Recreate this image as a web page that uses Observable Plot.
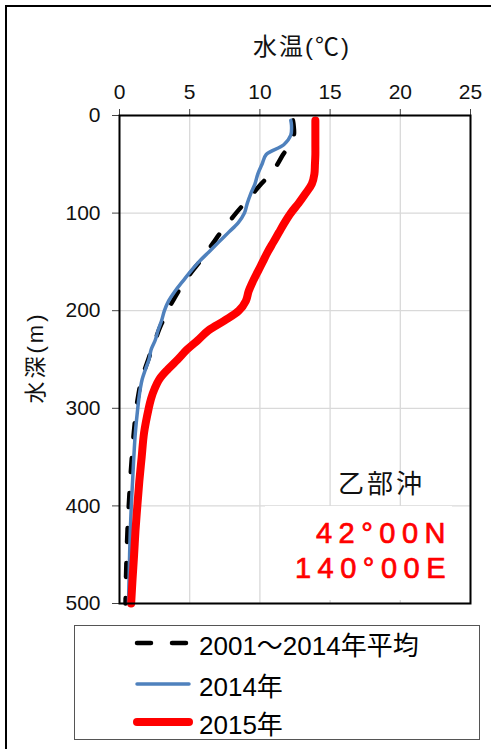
<!DOCTYPE html>
<html>
<head>
<meta charset="utf-8">
<script src="https://cdn.jsdelivr.net/npm/d3@7"></script>
<script src="https://cdn.jsdelivr.net/npm/@observablehq/plot@0.6"></script>
<style>
html, body { margin: 0; padding: 0; width: 491px; height: 749px; overflow: hidden; background: #fff; }
body { font-family: "Liberation Sans", "Noto Sans CJK JP", sans-serif; color: #000; }
#wrap { position: relative; width: 491px; height: 749px; overflow: hidden; }
#outer { position: absolute; left: 5px; top: 5px; width: 486px; height: 744px; border-top: 2px solid #000; border-left: 2px solid #000; box-sizing: border-box; }
#chart { position: absolute; left: 0; top: 0; }
#place { position: absolute; left: 338px; top: 467px; font-size: 26px; letter-spacing: 3px; color: #111; line-height: 30px; font-family: "Noto Sans CJK JP", sans-serif; }
#coords { position: absolute; left: 265px; top: 506px; width: 187px; height: 94px; background: #fff; color: #ff0000;
  font-size: 29px; letter-spacing: 6.5px; line-height: 35px; text-align: right; padding-top: 10px; box-sizing: border-box;
  font-family: "Liberation Sans", sans-serif; -webkit-text-stroke: 0.7px #ff0000; }
#legend { position: absolute; left: 74px; top: 625px; width: 406px; height: 115px; border: 1px solid #555; box-sizing: border-box; }
.row { position: absolute; left: 58px; height: 30px; display: flex; align-items: center; font-size: 26px; white-space: nowrap; }
.row svg { width: 62px; height: 14px; margin-right: 4px; }
</style>
</head>
<body>
<div id="wrap">
  <div id="outer"></div>
  <div id="chart"></div>
  <div id="place"></div>
  <div id="coords"></div>
  <div id="legend"></div>
</div>
<script>
// ---- data ----
const depths   = [5, 10, 20, 30, 40, 50, 60, 70, 80, 90, 100, 110, 120, 130, 140, 150, 160, 170, 180, 190, 200, 210, 220, 230, 240, 250, 260, 270, 280, 290, 300, 325, 350, 375, 400, 425, 450, 475, 500];
const tempMean = [12.35, 12.4, 12.42, 12.15, 11.65, 11.25, 10.75, 10.1, 9.5, 8.9, 8.3, 7.75, 7.2, 6.7, 6.2, 5.7, 5.15, 4.65, 4.2, 3.8, 3.4, 3.1, 2.8, 2.55, 2.28, 2.05, 1.8, 1.55, 1.42, 1.3, 1.2, 1.02, 0.88, 0.76, 0.66, 0.57, 0.51, 0.46, 0.43];
const temp2014 = [12.2, 12.25, 12.2, 11.7, 10.45, 10.15, 9.85, 9.65, 9.35, 9.1, 8.9, 8.45, 7.75, 7.05, 6.35, 5.65, 5.05, 4.5, 3.95, 3.5, 3.2, 3.0, 2.75, 2.55, 2.25, 2.1, 1.85, 1.62, 1.48, 1.38, 1.3, 1.13, 1.02, 0.93, 0.84, 0.77, 0.72, 0.68, 0.64];
const temp2015 = [13.95, 13.95, 13.95, 13.95, 13.95, 13.92, 13.88, 13.7, 13.25, 12.75, 12.2, 11.75, 11.35, 10.95, 10.55, 10.2, 9.85, 9.5, 9.2, 9.0, 8.5, 7.5, 6.35, 5.6, 4.8, 4.15, 3.45, 2.85, 2.5, 2.25, 2.08, 1.75, 1.58, 1.41, 1.27, 1.14, 1.04, 0.93, 0.83];
const seriesNames = ["2001～2014年平均", "2014年", "2015年"];
const xTicks = [0, 5, 10, 15, 20, 25];
const yTicks = [0, 100, 200, 300, 400, 500];
const xTitle = "水温(℃)";
const yTitle = "水深(m)";
const placeName = "乙部沖";
const coordLines = ["42°00N", "140°00E"];

// ---- styles ----
const FONT = '"Liberation Sans", "Noto Sans CJK JP", sans-serif';
const styles = [
  {stroke: "#000000", strokeWidth: 4.5, strokeDasharray: "14,21"},
  {stroke: "#4f81bd", strokeWidth: 3.5},
  {stroke: "#ff0000", strokeWidth: 8}
];

const seriesValues = [tempMean, temp2014, temp2015];
const rows = seriesNames.flatMap((name, s) => depths.map((d, i) => ({series: name, depth: d, temp: seriesValues[s][i]})));

const lineMarks = seriesNames.map((name, s) =>
  Plot.line(rows.filter(r => r.series === name), {
    x: "temp", y: "depth", curve: "catmull-rom",
    strokeLinecap: "round", strokeLinejoin: "round",
    ...styles[s]
  })
);

const chart = Plot.plot({
  width: 491,
  height: 620,
  marginTop: 115,
  marginLeft: 119,
  marginRight: 21,
  marginBottom: 17,
  style: {fontFamily: FONT, fontSize: "21px", color: "#000", background: "transparent", overflow: "visible"},
  x: {domain: [0, 25]},
  y: {domain: [0, 500], reverse: true},
  marks: [
    Plot.gridX(xTicks, {stroke: "#d9d9d9", strokeOpacity: 1, strokeWidth: 1.3}),
    Plot.gridY(yTicks, {stroke: "#d9d9d9", strokeOpacity: 1, strokeWidth: 1.3}),
    Plot.axisX(xTicks, {anchor: "top", tickSize: 7, tickPadding: 10, label: null, fontSize: 21, stroke: "#444", fill: "#111"}),
    Plot.axisY(yTicks, {anchor: "left", tickSize: 7, tickPadding: 12, label: null, fontSize: 21, stroke: "#444", fill: "#111"}),
    ...lineMarks,
    Plot.frame({stroke: "#000", strokeWidth: 2}),
    Plot.text([xTitle], {text: d => d, frameAnchor: "top", lineAnchor: "middle", textAnchor: "middle", dy: -68, dx: 7, fontSize: 24, fill: "#111"}),
    Plot.text([yTitle], {text: d => d, frameAnchor: "left", lineAnchor: "middle", textAnchor: "middle", dx: -84, dy: -2, rotate: -90, fontSize: 22, fill: "#111"})
  ]
});
document.getElementById("chart").appendChild(chart);

// letter spacing for the axis titles
d3.select(chart).selectAll("text").each(function() {
  const t = this.textContent;
  if (t === xTitle) this.style.letterSpacing = "2px";
  if (t === yTitle) this.style.letterSpacing = "3px";
});

// annotations
document.getElementById("place").textContent = placeName;
document.getElementById("coords").innerHTML = coordLines.map(s => `<div>${s}</div>`).join("");

// legend
const legend = document.getElementById("legend");
const rowTops = [2, 43, 81];
seriesNames.forEach((name, s) => {
  const row = document.createElement("div");
  row.className = "row";
  row.style.top = rowTops[s] + "px";
  const st = styles[s];
  row.innerHTML = `<svg viewBox="0 0 62 14"><line x1="4" y1="7" x2="56" y2="7" stroke="${st.stroke}" stroke-width="${st.strokeWidth}" stroke-linecap="round" ${st.strokeDasharray ? `stroke-dasharray="${st.strokeDasharray}"` : ""}/></svg><span>${name}</span>`;
  legend.appendChild(row);
});
</script>
</body>
</html>
